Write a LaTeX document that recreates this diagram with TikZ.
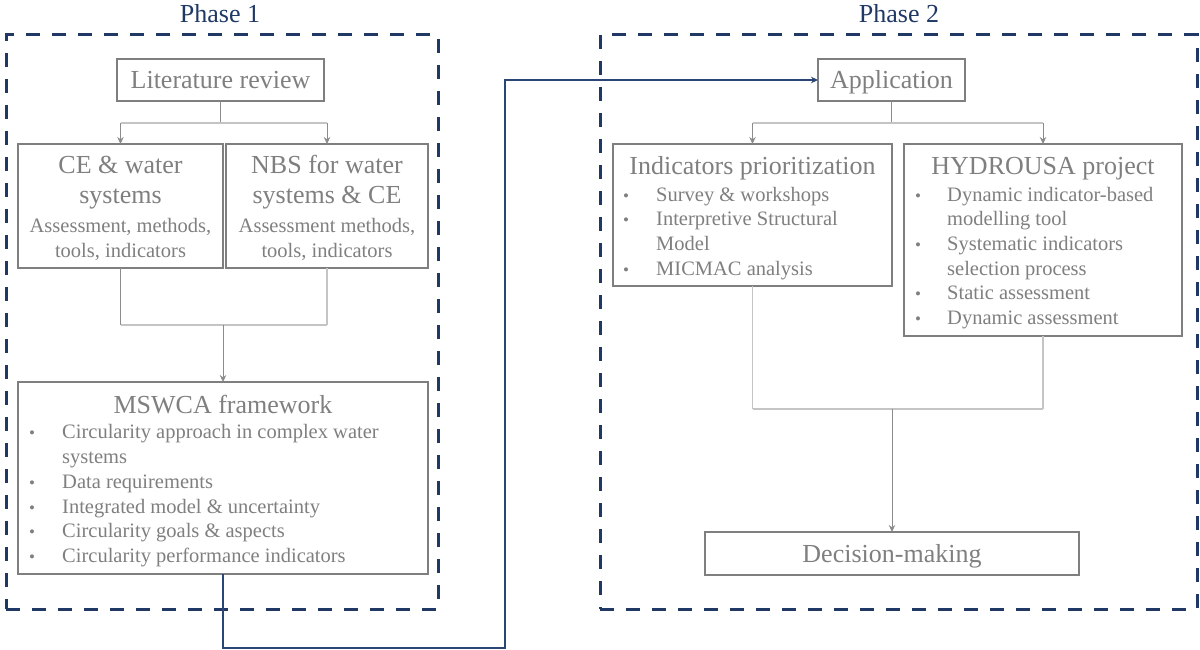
\documentclass[tikz,border=0pt]{standalone}
\usepackage{fontspec}
\setmainfont{Liberation Serif}
\usetikzlibrary{arrows.meta}
\definecolor{txtgray}{HTML}{7F7F7F}
\definecolor{boxgray}{HTML}{7F7F7F}
\definecolor{stemgray}{HTML}{8C8C8C}
\definecolor{lightline}{HTML}{C4C4C4}
\definecolor{navy}{HTML}{1F3864}
\definecolor{linkblue}{HTML}{2B4676}
\tikzset{
  phase/.style={draw=navy, line width=3pt, dash pattern=on 14pt off 12pt, inner sep=0},
  ptitle/.style={text=navy, font=\fontsize{26}{30}\selectfont, anchor=base, inner sep=0},
  box/.style={draw=boxgray, line width=1.5pt, inner sep=0, outer sep=0},
  big/.style={text=txtgray, font=\fontsize{26}{30}\selectfont, anchor=base, inner sep=0},
  small/.style={text=txtgray, font=\fontsize{20.5}{24}\selectfont, anchor=base, inner sep=0},
  item/.style={small, anchor=base west},
  dot/.style={text=txtgray, font=\fontsize{17}{17}\selectfont, anchor=base, inner sep=0},
  stem/.style={draw=stemgray, line width=1pt},
  joinline/.style={draw=lightline, line width=1.2pt},
  arr/.style={stem, -{Stealth[length=7pt,width=6.5pt]}},
  link/.style={draw=linkblue, line width=1.5pt, -{Stealth[length=7pt,width=6.5pt]}}
}
\begin{document}
\begin{tikzpicture}[x=1pt,y=-1pt]
\useasboundingbox (0,0) rectangle (1200,650);

% Phase frames
\node[phase, minimum width=432pt, minimum height=574pt] (p1) at (222,322) {};
\node[phase, minimum width=597pt, minimum height=574pt] (p2) at (898.5,322) {};
\node[ptitle] (p1t) at (220,23) {Phase 1};
\node[ptitle] (p2t) at (899,23) {Phase 2};

% ---------- Phase 1 ----------
\node[box, minimum width=207pt, minimum height=42pt] (lit) at (220.5,80) {};
\node[big] (litt) at (220.5,89) {Literature review};

\node[box, minimum width=205pt, minimum height=124pt] (ce) at (120.5,206) {};
\node[big] (ce1) at (120.5,174) {CE \& water};
\node[big] (ce2) at (120.5,204) {systems};
\node[small] (ce3) at (120.5,233) {Assessment, methods,};
\node[small] (ce4) at (120.5,257) {tools, indicators};

\node[box, minimum width=202pt, minimum height=124pt] (nbs) at (327,206) {};
\node[big] (nbs1) at (327,174) {NBS for water};
\node[big] (nbs2) at (327,204) {systems \& CE};
\node[small] (nbs3) at (327,233) {Assessment methods,};
\node[small] (nbs4) at (327,257) {tools, indicators};

\node[box, minimum width=410pt, minimum height=192pt] (msw) at (223,478) {};
\node[big] (mswt) at (223,413) {MSWCA framework};
\node[dot] (md1) at (32,438) {\textbullet};
\node[item] (mi1) at (62,438) {Circularity approach in complex water};
\node[item] (mi1b) at (62,463) {systems};
\node[dot] (md2) at (32,488) {\textbullet};
\node[item] (mi2) at (62,488) {Data requirements};
\node[dot] (md3) at (32,513) {\textbullet};
\node[item] (mi3) at (62,513) {Integrated model \& uncertainty};
\node[dot] (md4) at (32,537) {\textbullet};
\node[item] (mi4) at (62,537) {Circularity goals \& aspects};
\node[dot] (md5) at (32,562) {\textbullet};
\node[item] (mi5) at (62,562) {Circularity performance indicators};

% Phase 1 connectors
\coordinate (j1) at (220.5,123);
\draw[stem] (lit.south) -- (j1);
\draw[joinline] (ce.north |- j1) -- (nbs.north |- j1);
\draw[arr] (ce.north |- j1) -- (ce.north);
\draw[arr] (nbs.north |- j1) -- (nbs.north);

\coordinate (j2) at (223,325);
\draw[stem] (ce.south) -- (ce.south |- j2);
\draw[joinline] (nbs.south) -- (nbs.south |- j2);
\draw[joinline] (ce.south |- j2) -- (nbs.south |- j2);
\draw[arr] (j2) -- (msw.north);

% ---------- Phase 2 ----------
\node[box, minimum width=147pt, minimum height=42pt] (app) at (891.5,80) {};
\node[big] (appt) at (891.5,89) {Application};

\node[box, minimum width=279pt, minimum height=142pt] (ind) at (752.5,215) {};
\node[big] (indt) at (752.5,175) {Indicators prioritization};
\node[dot] (id1) at (626,201) {\textbullet};
\node[item] (ii1) at (656,201) {Survey \& workshops};
\node[dot] (id2) at (626,225.7) {\textbullet};
\node[item] (ii2) at (656,225.7) {Interpretive Structural};
\node[item] (ii2b) at (656,250.3) {Model};
\node[dot] (id3) at (626,275) {\textbullet};
\node[item] (ii3) at (656,275) {MICMAC analysis};

\node[box, minimum width=278pt, minimum height=192pt] (hyd) at (1043,240) {};
\node[big] (hydt) at (1043,175) {HYDROUSA project};
\node[dot] (hd1) at (918,201) {\textbullet};
\node[item] (hi1) at (947,201) {Dynamic indicator-based};
\node[item] (hi1b) at (947,225.7) {modelling tool};
\node[dot] (hd2) at (918,250.3) {\textbullet};
\node[item] (hi2) at (947,250.3) {Systematic indicators};
\node[item] (hi2b) at (947,275) {selection process};
\node[dot] (hd3) at (918,299.7) {\textbullet};
\node[item] (hi3) at (947,299.7) {Static assessment};
\node[dot] (hd4) at (918,324.4) {\textbullet};
\node[item] (hi4) at (947,324.4) {Dynamic assessment};

\node[box, minimum width=374pt, minimum height=43pt] (dec) at (892,553.5) {};
\node[big] (dect) at (892,562) {Decision-making};

% Phase 2 connectors
\coordinate (j3) at (891.5,123);
\draw[stem] (app.south) -- (j3);
\draw[joinline] (ind.north |- j3) -- (hyd.north |- j3);
\draw[arr] (ind.north |- j3) -- (ind.north);
\draw[arr] (hyd.north |- j3) -- (hyd.north);

\coordinate (j4) at (892,409);
\draw[joinline] (ind.south) -- (ind.south |- j4);
\draw[joinline] (hyd.south) -- (hyd.south |- j4);
\draw[joinline] (ind.south |- j4) -- (hyd.south |- j4);
\draw[arr] (j4) -- (dec.north);

% Link between phases
\coordinate (l1) at (223,648);
\coordinate (l2) at (505,648);
\coordinate (l3) at (505,80);
\draw[link] (msw.south) -- (l1) -- (l2) -- (l3) -- (app.west);
\end{tikzpicture}
\end{document}
